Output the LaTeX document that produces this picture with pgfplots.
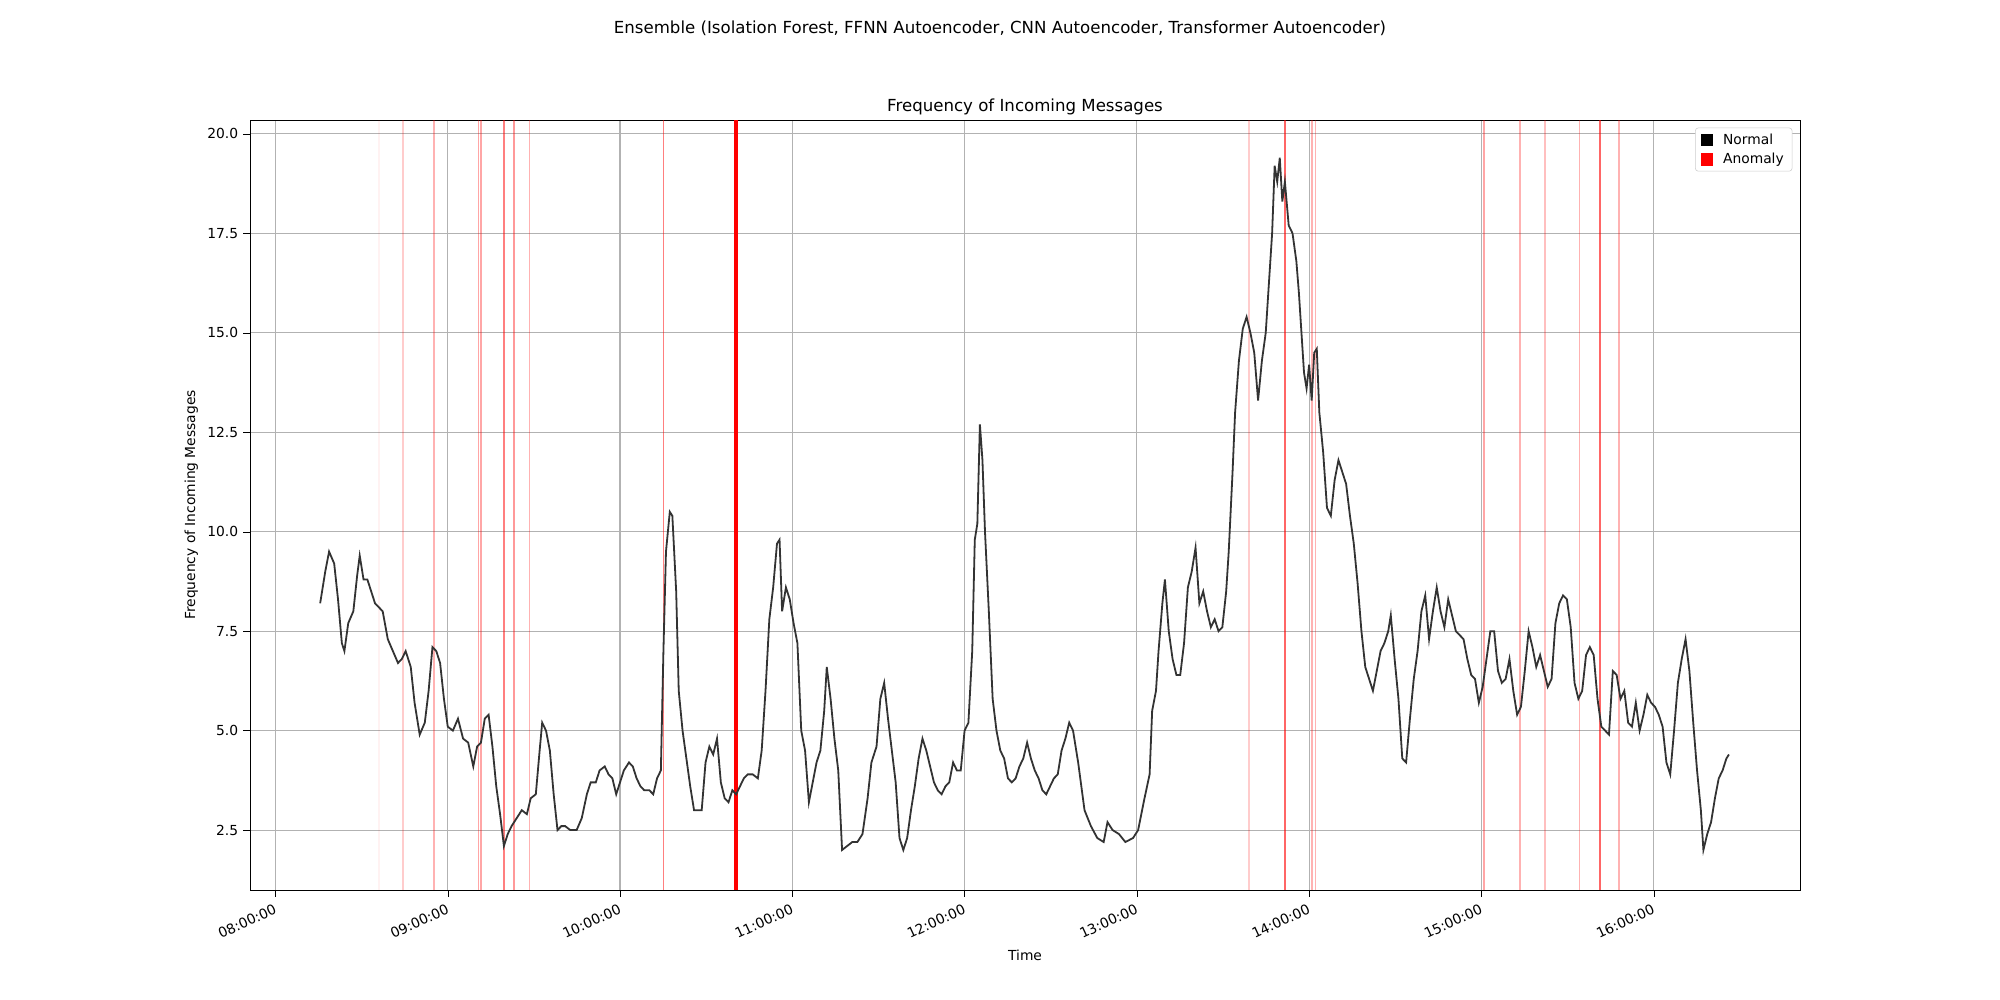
\documentclass[border=0pt]{standalone}
\usepackage{pgfplots}
\pgfplotsset{compat=1.18}
\usepackage{pgfplotstable}
\usepackage{fontspec}
\setmainfont{DejaVu Sans}
\pgfplotstableread{
px y
251 8.2
255 9.0
258 9.5
262 9.2
265 8.3
268 7.2
270 7.0
273 7.7
277 8.0
280 8.9
282 9.4
285 8.8
288 8.8
291 8.5
294 8.2
297 8.1
300 8.0
304 7.3
308 7.0
312 6.7
315 6.8
318 7.0
322 6.6
325 5.7
329 4.9
333 5.2
336 6.0
339 7.1
342 7.0
345 6.7
348 5.8
351 5.1
355 5.0
359 5.3
363 4.8
367 4.7
371 4.1
374 4.6
377 4.7
380 5.3
383 5.4
386 4.6
389 3.6
392 2.9
395 2.1
398 2.4
401 2.6
405 2.8
409 3.0
413 2.9
416 3.3
420 3.4
423 4.5
425 5.2
428 5.0
431 4.5
434 3.4
437 2.5
440 2.6
443 2.6
447 2.5
452 2.5
456 2.8
460 3.4
463 3.7
467 3.7
470 4.0
474 4.1
477 3.9
480 3.8
483 3.4
486 3.7
489 4.0
493 4.2
496 4.1
499 3.8
502 3.6
505 3.5
509 3.5
512 3.4
515 3.8
518 4.0
520 7.0
522 9.5
525 10.5
527 10.4
530 8.5
532 6.0
535 5.0
538 4.3
541 3.6
544 3.0
547 3.0
550 3.0
553 4.2
556 4.6
559 4.4
562 4.8
565 3.7
568 3.3
571 3.2
574 3.5
577 3.4
580 3.6
583 3.8
586 3.9
590 3.9
594 3.8
597 4.5
600 6.0
603 7.8
606 8.6
609 9.7
611 9.8
613 8.0
616 8.6
619 8.3
622 7.7
625 7.2
628 5.0
631 4.5
634 3.2
637 3.7
640 4.2
643 4.5
646 5.5
648 6.6
651 5.8
654 4.8
657 4.0
660 2.0
664 2.1
668 2.2
672 2.2
676 2.4
680 3.3
683 4.2
687 4.6
690 5.8
693 6.2
696 5.3
699 4.5
702 3.7
705 2.3
708 2.0
711 2.3
714 3.0
717 3.6
720 4.3
723 4.8
726 4.5
729 4.1
732 3.7
735 3.5
738 3.4
741 3.6
744 3.7
747 4.2
750 4.0
753 4.0
756 5.0
759 5.2
762 7.0
764 9.8
766 10.2
768 12.7
770 11.8
772 10.0
775 8.0
778 5.8
781 5.0
784 4.5
787 4.3
790 3.8
793 3.7
796 3.8
799 4.1
802 4.3
805 4.7
808 4.3
811 4.0
814 3.8
817 3.5
820 3.4
823 3.6
826 3.8
829 3.9
832 4.5
835 4.8
838 5.2
841 5.0
845 4.2
850 3.0
855 2.6
860 2.3
865 2.2
868 2.7
872 2.5
877 2.4
882 2.2
888 2.3
892 2.5
897 3.3
901 3.9
903 5.5
906 6.0
908 7.0
911 8.2
913 8.8
916 7.5
919 6.8
922 6.4
925 6.4
928 7.2
931 8.6
934 9.0
937 9.6
940 8.2
943 8.5
946 8.0
949 7.6
952 7.8
955 7.5
958 7.6
961 8.5
963 9.5
966 11.5
968 13.0
971 14.3
974 15.1
977 15.4
980 15.0
983 14.5
986 13.3
989 14.3
992 15.0
994 16.0
997 17.5
999 19.2
1001 18.8
1003 19.4
1005 18.3
1007 18.8
1010 17.7
1013 17.5
1016 16.8
1018 16.0
1020 15.0
1022 14.0
1024 13.6
1026 14.2
1028 13.3
1030 14.5
1032 14.6
1034 13.0
1037 12.0
1040 10.6
1043 10.4
1046 11.3
1049 11.8
1052 11.5
1055 11.2
1058 10.4
1061 9.7
1064 8.7
1067 7.5
1070 6.6
1073 6.3
1076 6.0
1079 6.5
1082 7.0
1085 7.2
1088 7.5
1090 7.9
1093 6.8
1096 5.8
1099 4.3
1102 4.2
1105 5.3
1108 6.3
1111 7.0
1114 8.0
1117 8.4
1120 7.3
1123 8.0
1126 8.6
1129 8.0
1132 7.6
1135 8.3
1138 7.9
1141 7.5
1144 7.4
1147 7.3
1150 6.8
1153 6.4
1156 6.3
1159 5.7
1162 6.1
1165 6.8
1168 7.5
1171 7.5
1174 6.5
1177 6.2
1180 6.3
1183 6.8
1186 6.0
1189 5.4
1192 5.6
1195 6.5
1198 7.5
1201 7.1
1204 6.6
1207 6.9
1210 6.5
1213 6.1
1216 6.3
1219 7.7
1222 8.2
1225 8.4
1228 8.3
1231 7.6
1234 6.2
1237 5.8
1240 6.0
1243 6.9
1246 7.1
1249 6.9
1252 5.8
1255 5.1
1258 5.0
1261 4.9
1264 6.5
1267 6.4
1270 5.8
1273 6.0
1276 5.2
1279 5.1
1282 5.7
1285 5.0
1288 5.4
1291 5.9
1294 5.7
1297 5.6
1300 5.4
1303 5.1
1306 4.2
1309 3.9
1312 5.0
1315 6.2
1318 6.8
1321 7.3
1324 6.5
1327 5.2
1330 4.0
1333 3.0
1335 2.0
1338 2.4
1341 2.7
1344 3.3
1347 3.8
1350 4.0
1353 4.3
1355 4.4
}\datatable
\begin{document}
\begin{tikzpicture}
\path (-2.5in,-1.1in) rectangle (17.5in,8.9in);
\node[font=\fontsize{12}{14}\selectfont] at (7.5in,8.62in) {Ensemble (Isolation Forest, FFNN Autoencoder, CNN Autoencoder, Transformer Autoencoder)};
\begin{axis}[
 at={(0,0)}, anchor=south west, scale only axis,
 width=15.5in, height=7.7in,
 xmin=7.852, xmax=16.85, ymin=0.994, ymax=20.35,
 xtick={8,...,16},
 xticklabels={08:00:00,09:00:00,10:00:00,11:00:00,12:00:00,13:00:00,14:00:00,15:00:00,16:00:00},
 xticklabel style={rotate=25, anchor=north east, font=\fontsize{10}{12}\selectfont},
 ytick={2.5,5,7.5,10,12.5,15,17.5,20},
 yticklabels={2.5,5.0,7.5,10.0,12.5,15.0,17.5,20.0},
 yticklabel style={font=\fontsize{10}{12}\selectfont},
 grid=major, grid style={gray!60, line width=0.8pt},
 tick align=outside, tick pos=left,
 tick style={black}, major tick length=5pt,
 title={Frequency of Incoming Messages},
 title style={font=\fontsize{12}{14}\selectfont, yshift=-6pt},
 xlabel={Time}, ylabel={Frequency of Incoming Messages},
 label style={font=\fontsize{10}{12}\selectfont},
 legend style={at={(0.995,0.99)}, anchor=north east, font=\fontsize{10}{12}\selectfont, draw=gray!40, rounded corners=2pt, row sep=1pt, inner xsep=4pt},
 legend cell align=left,
 legend image post style={xshift=-4pt},
]
\addlegendimage{only marks, mark=square*, black, mark size=4pt}
\addlegendentry{\hspace{6pt}Normal}
\addlegendimage{only marks, mark=square*, red, mark size=4pt}
\addlegendentry{\hspace{6pt}Anomaly}
\foreach \p/\o in {297/0.05,316/0.2,340/0.3,375/0.35,377/0.35,395/0.5,403/0.4,415/0.3,520/0.5,979/0.2,1007/0.6,1028/0.3,1031/0.3,1163/0.35,1191/0.3,1211/0.25,1238/0.3,1254/0.6,1269/0.3} {
 \edef\tmp{\noexpand\addplot[red, opacity=\o, line width=1.2pt, forget plot] coordinates {({8+(\p-216)/135},0.994) ({8+(\p-216)/135},20.35)};}
 \tmp
}
\addplot[red, line width=2.5pt, forget plot] coordinates {({8+(577-216)/135},0.994) ({8+(577-216)/135},20.35)};
\addplot[color={rgb,255:red,51;green,51;blue,51}, line width=1.3pt, forget plot] table[x expr={8+(\thisrow{px}-216)/135}, y=y] {\datatable};
\end{axis}
\end{tikzpicture}
\end{document}
